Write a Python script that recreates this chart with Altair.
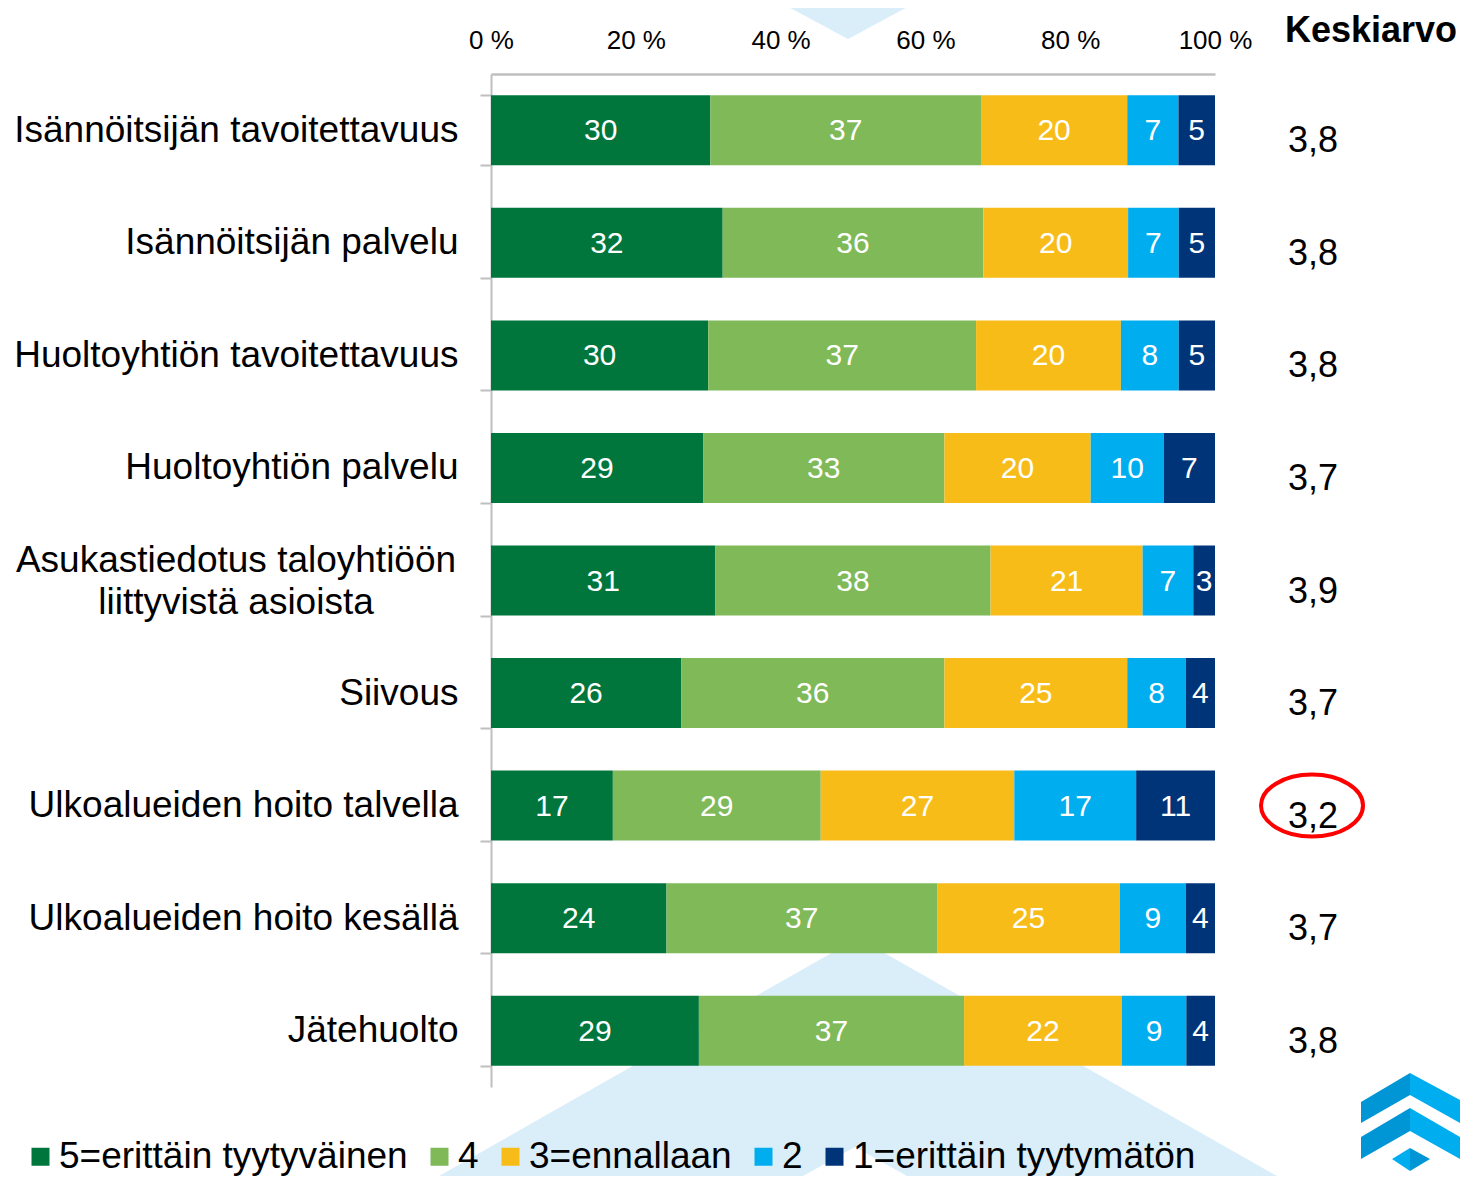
import altair as alt
import pandas as pd

# ---------------- data ----------------
categories = [
    "Isännöitsijän tavoitettavuus",
    "Isännöitsijän palvelu",
    "Huoltoyhtiön tavoitettavuus",
    "Huoltoyhtiön palvelu",
    "Asukastiedotus taloyhtiöön liittyvistä asioista",
    "Siivous",
    "Ulkoalueiden hoito talvella",
    "Ulkoalueiden hoito kesällä",
    "Jätehuolto",
]
levels = ["5=erittäin tyytyväinen", "4", "3=ennallaan", "2", "1=erittäin tyytymätön"]
v5 = [30, 32, 30, 29, 31, 26, 17, 24, 29]
v4 = [37, 36, 37, 33, 38, 36, 29, 37, 37]
v3 = [20, 20, 20, 20, 21, 25, 27, 25, 22]
v2 = [7, 7, 8, 10, 7, 8, 17, 9, 9]
v1 = [5, 5, 5, 7, 3, 4, 11, 4, 4]
averages = ["3,8", "3,8", "3,8", "3,7", "3,9", "3,7", "3,2", "3,7", "3,8"]
x_ticks = [0, 0.2, 0.4, 0.6, 0.8, 1.0]

colors = ["#00763c", "#7fb958", "#f8bc18", "#00aeef", "#003479"]
FONT = "Liberation Sans"

rows = []
for i, c in enumerate(categories):
    for j, vals in enumerate([v5, v4, v3, v2, v1]):
        rows.append({"cat": c, "level": levels[j], "order": j, "value": vals[i]})
df = pd.DataFrame(rows)

df_avg = pd.DataFrame({"cat": categories, "avg": averages})
low_idx = min(range(len(averages)), key=lambda k: float(averages[k].replace(",", ".")))
df_ell = pd.DataFrame({"cat": [categories[low_idx]]})

wrap_cat = categories[4]
words = wrap_cat.split(" ")
df_wrap = pd.DataFrame({"cat": [wrap_cat], "lab": [" ".join(words[:2]) + "\n" + " ".join(words[2:])]})

one = pd.DataFrame({"k": [0]})

# ---------------- encodings ----------------
W, H = 724, 1013

x_axis = alt.Axis(
    orient="top", values=x_ticks, labelExpr="round(datum.value*100) + ' %'",
    ticks=False, grid=False, domainColor="#bfbfbf", domainWidth=2.5,
    labelFontSize=26, labelFont=FONT, labelColor="#000000", labelPadding=21,
    labelFlush=False, labelOverlap=False, title=None,
)
x_scale = alt.Scale(domain=[0, 1], nice=False)

y_enc = alt.Y(
    "cat:N", sort=categories,
    scale=alt.Scale(domain=categories, paddingInner=0.378, paddingOuter=0.189),
    axis=alt.Axis(
        orient="left", title=None, grid=False,
        domainColor="#bfbfbf", domainWidth=2,
        tickColor="#bfbfbf", tickWidth=2, tickSize=11, tickBand="extent",
        labelFontSize=37, labelFont=FONT, labelColor="#000000",
        labelPadding=22, labelLimit=700,
        labelExpr="datum.label == '" + wrap_cat + "' ? '' : datum.label",
    ),
)


def shape_layer(path, px, py, fill):
    return alt.Chart(one).mark_point(
        shape=path, size=4, opacity=1, filled=True, fill=fill, strokeWidth=0
    ).encode(x=alt.value(px), y=alt.value(py))


# ---------------- background decoration ----------------
bg_blue = "#daeefa"
bg_top = shape_layer("M 0 0 L -80 -43 L 80 -43 Z", 357, -35, bg_blue)
bg_bot = shape_layer("M 0 0 L 470 267 L -470 267 Z", 367, 864, bg_blue)
bg_inner = shape_layer("M -3 209 L 160 300 L -166 300 Z", 367, 864, "#ffffff")

# ---------------- bars ----------------
base = alt.Chart(df).transform_joinaggregate(
    total="sum(value)", groupby=["cat"]
).transform_window(
    cum="sum(value)", groupby=["cat"], sort=[alt.SortField("order")], frame=[None, 0]
).transform_calculate(
    x0="(datum.cum - datum.value) / datum.total",
    x1="datum.cum / datum.total",
    xm="(datum.cum - datum.value / 2) / datum.total",
)

bars = base.mark_bar(size=70).encode(
    x=alt.X("x0:Q", scale=x_scale, axis=x_axis),
    x2="x1:Q",
    y=y_enc,
    color=alt.Color(
        "level:N",
        scale=alt.Scale(domain=levels, range=colors),
        legend=alt.Legend(
            orient="none", legendX=-469, legendY=1064, direction="horizontal",
            columns=5, title=None, labelFontSize=37, labelFont=FONT,
            labelColor="#000000", symbolType="square", symbolSize=324,
            symbolStrokeWidth=0, symbolOpacity=1, labelOffset=0,
            columnPadding=13, labelLimit=700,
        ),
    ),
)

bar_text = base.mark_text(color="white", fontSize=30, font=FONT, baseline="middle", dy=1).encode(
    x=alt.X("xm:Q", scale=x_scale, axis=x_axis),
    y=y_enc,
    text="value:Q",
)

wrap_lab = alt.Chart(df_wrap).mark_text(
    align="center", baseline="middle", fontSize=37, font=FONT, color="#000000",
    lineBreak="\n", lineHeight=42, dy=-20,
).encode(x=alt.value(-255), y=y_enc, text="lab:N")

avg_hdr = alt.Chart(one).mark_text(
    text="Keskiarvo", align="left", baseline="middle", fontSize=36,
    fontWeight="bold", font=FONT, color="#000000",
).encode(x=alt.value(794), y=alt.value(-43))

avg_text = alt.Chart(df_avg).mark_text(
    align="center", baseline="middle", fontSize=36, font=FONT, color="#000000", dy=11,
).encode(x=alt.value(822), y=y_enc, text="avg:N")

ellipse = alt.Chart(df_ell).mark_point(
    shape="M -51 0 A 51 31 0 1 0 51 0 A 51 31 0 1 0 -51 0 Z",
    size=4, filled=False, stroke="#ff0000", strokeWidth=4, opacity=1,
).encode(x=alt.value(821), y=y_enc)

# ---------------- logo ----------------
dark_b, light_b = "#0096d6", "#00aeef"
lx, ly = 919, 1046
logo = [
    shape_layer("M 0 -47 L -49 -18 L -49 3 L 0 -25 Z", lx, ly, dark_b),
    shape_layer("M 0 -47 L 50 -20 L 50 3 L 0 -25 Z", lx, ly, light_b),
    shape_layer("M 0 -12 L -49 17 L -49 39 L 0 11 Z", lx, ly, dark_b),
    shape_layer("M 0 -12 L 50 17 L 50 39 L 0 11 Z", lx, ly, light_b),
    shape_layer("M 0 28 L -18 39 L 0 51 Z", lx, ly, light_b),
    shape_layer("M 0 28 L 20 39 L 0 51 Z", lx, ly, dark_b),
]

chart = alt.layer(
    bg_top, bg_bot, bg_inner, bars, bar_text, wrap_lab, avg_hdr, avg_text, ellipse, *logo
).properties(
    width=W, height=H,
    padding={"left": 483, "top": 66, "right": 246, "bottom": 89},
    autosize=alt.AutoSizeParams(type="none"),
).configure_view(stroke=None)

chart.save("out.html", embed_options={"renderer": "svg", "actions": False})
